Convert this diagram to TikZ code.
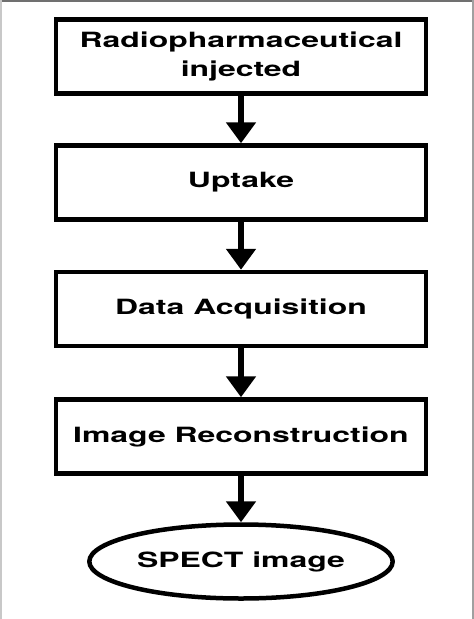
\documentclass[tikz,border=0pt]{standalone}
\definecolor{frametop}{RGB}{112, 112, 112}
\definecolor{frameleft}{RGB}{200, 200, 200}
\definecolor{frameright}{RGB}{160, 160, 160}
\usepackage{fontspec}
\setmainfont{TeX Gyre Heros}[FakeStretch=1.52]
\usepackage{tikz}
\usetikzlibrary{shapes.geometric, arrows.meta, positioning}

\tikzset{
  procbox/.style={draw, line width=4.5pt, minimum width=370pt, minimum height=74pt,
    align=center, font=\fontsize{21}{29}\selectfont\bfseries},
  endoval/.style={draw, ellipse, line width=4.5pt, minimum width=284pt, minimum height=74pt,
    font=\fontsize{21}{29}\selectfont\bfseries},
  flowarrow/.style={-{Triangle[width=29pt, length=21pt]}, line width=6.5pt}
}

\begin{document}
\begin{tikzpicture}[x=1pt, y=-1pt]
  \useasboundingbox (0, 0) rectangle (474, 619);

  % Frame of the figure
  \fill[frametop] (0, 0) rectangle (474, 2);
  \fill[frameleft] (0, 0) rectangle (2, 619);
  \fill[frameright] (471.5, 0) rectangle (474, 619);

  % Steps
  \node[procbox] (inj) at (241, 56.5) {Radiopharmaceutical\\injected};
  \node[procbox] (upt) at (241, 182.5) {Uptake};
  \node[procbox] (acq) at (241, 309) {Data Acquisition};
  \node[procbox] (recon) at (241, 436.5) {Image Reconstruction};
  \node[endoval] (spect) at (241, 561.5) {SPECT image};

  % Arrows between steps
  \draw[flowarrow] (inj) -- (upt);
  \draw[flowarrow] (upt) -- (acq);
  \draw[flowarrow] (acq) -- (recon);
  \draw[flowarrow] (recon) -- (spect);
\end{tikzpicture}
\end{document}
